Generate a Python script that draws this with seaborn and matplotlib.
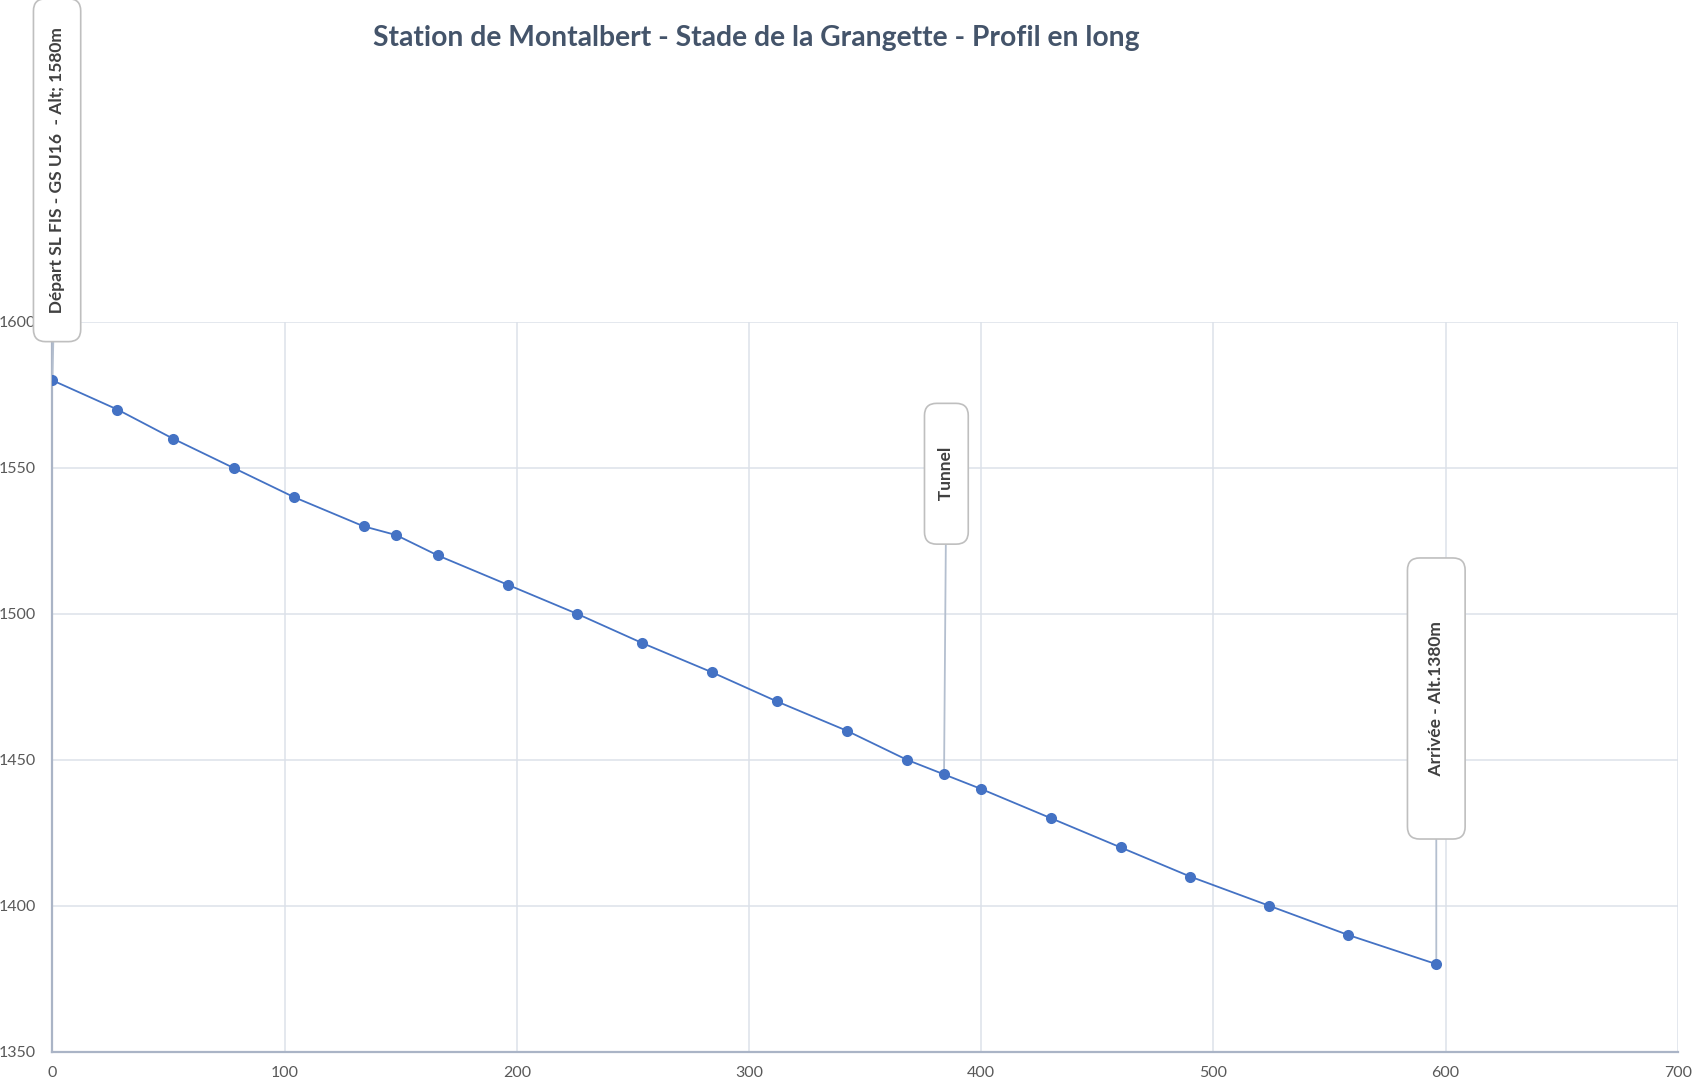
import matplotlib
matplotlib.use("Agg")
import matplotlib.pyplot as plt
import seaborn as sns
import pandas as pd

# distance (m) / altitude (m)
distance = [0, 28, 52, 78, 104, 134, 148, 166, 196, 226, 254, 284, 312, 342,
            368, 384, 400, 430, 460, 490, 524, 558, 596]
altitude = [1580, 1570, 1560, 1550, 1540, 1530, 1527, 1520, 1510, 1500, 1490,
            1480, 1470, 1460, 1450, 1445, 1440, 1430, 1420, 1410, 1400, 1390, 1380]

title = "Station de Montalbert - Stade de la Grangette - Profil en long"
labels = ["Départ SL FIS - GS U16  - Alt; 1580m", "Tunnel", "Arrivée - Alt.1380m"]
label_idx = [0, 15, 22]
label_pos = [(2, 1652), (385, 1548), (596, 1471)]
label_pad = [3, 7, 10]
box_pad = [0.9, 0.8, 1.2]

x_ticks = [0, 100, 200, 300, 400, 500, 600, 700]
y_ticks = [1350, 1400, 1450, 1500, 1550, 1600]

df = pd.DataFrame({"distance": distance, "altitude": altitude})

sns.set_style("whitegrid")
plt.rcParams["font.family"] = ["Lato", "DejaVu Sans"]

fig = plt.figure(figsize=(17.08, 10.87), dpi=100)
ax = fig.add_axes([0.0307, 0.0325, 0.9516, 0.6713])

sns.lineplot(data=df, x="distance", y="altitude", ax=ax, color="#4472C4",
             marker="o", markersize=8, markeredgewidth=0, linewidth=1.3,
             zorder=5)

ax.set_xlim(0, 700)
ax.set_ylim(1350, 1600)
ax.set_xticks(x_ticks)
ax.set_yticks(y_ticks)
ax.set_xlabel("")
ax.set_ylabel("")
ax.grid(True, color="#DCE1EA", linewidth=1.1)
ax.tick_params(axis="both", length=0, labelsize=11.5, labelcolor="#595959")
ax.tick_params(axis="y", pad=12)
ax.tick_params(axis="x", pad=10)
for side in ["top", "right"]:
    ax.spines[side].set_visible(False)
for side in ["left", "bottom"]:
    ax.spines[side].set_color("#AAB4C6")
    ax.spines[side].set_linewidth(1.6)

for txt, i, pos, pad, bp in zip(labels, label_idx, label_pos, label_pad, box_pad):
    ax.annotate(" " * pad + txt + " " * pad,
                xy=(distance[i], altitude[i]), xytext=pos,
                textcoords="data", rotation=90, ha="center", va="center",
                fontsize=12.5, fontweight="bold", color="#404040",
                annotation_clip=False, zorder=4,
                bbox=dict(boxstyle=f"round,pad={bp},rounding_size=0.7",
                          fc="white", ec="#BFBFBF", lw=1.2),
                arrowprops=dict(arrowstyle="-", color="#B4BFCF", lw=1.3,
                                shrinkA=0, shrinkB=0))

fig.text(0.443, 0.965, title, ha="center", va="center", fontsize=20.3,
         fontweight="bold", color="#44546A")

fig.savefig("out.png", dpi=100)
